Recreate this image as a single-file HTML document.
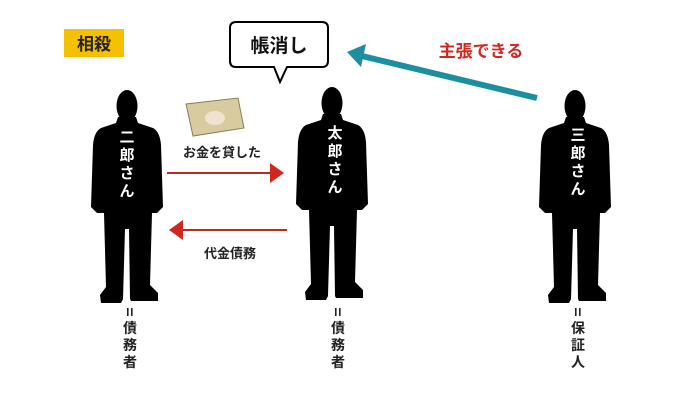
<!DOCTYPE html>
<html><head><meta charset="utf-8"><style>
body{margin:0;background:#fff;}
svg{display:block;}
text{font-family:"Liberation Sans","Noto Sans CJK JP",sans-serif;font-weight:bold;}
</style></head><body>
<svg width="700" height="400" viewBox="0 0 700 400" xmlns="http://www.w3.org/2000/svg">
<defs>
<g id="man">
<ellipse cx="0" cy="17" rx="10.5" ry="16" fill="#000"/>
<path d="M-9,28 L9,28 L11,34 L26,39 Q33,43 34,56 L36,118 L30,124 L25,124 L23,196 L31,204 L31,212 L4,212 L3,210 L2,140 L-2,140 L-4,210 L-6,214 L-26,214 L-27,206 L-21,198 L-23,124 L-30,124 L-36,118 L-34,56 Q-33,43 -26,39 L-11,34 Z" fill="#000"/>
</g>
</defs>
<rect x="64" y="29" width="60" height="28" fill="#f5c000"/>
<text x="94" y="50" font-size="17" text-anchor="middle" fill="#222">相殺</text>

<path d="M236,22 H322 Q328,22 328,28 V61 Q328,67 322,67 H287 L280,82 L274,67 H236 Q230,67 230,61 V28 Q230,22 236,22 Z" fill="#fff" stroke="#000" stroke-width="2"/>
<text x="279" y="52" font-size="19" text-anchor="middle" fill="#111">帳消し</text>

<text x="481" y="57" font-size="17" text-anchor="middle" fill="#d0271f">主張できる</text>
<line x1="537" y1="98" x2="362" y2="56" stroke="#1b8fa0" stroke-width="6"/>
<polygon points="347,52 366,44 361,67" fill="#1b8fa0"/>

<use href="#man" x="127" y="89"/>
<use href="#man" x="332" y="86"/>
<use href="#man" x="575" y="89"/>

<g font-size="15" fill="#fff" text-anchor="middle">
<text x="127" y="142">二</text><text x="127" y="160">郎</text><text x="127" y="178">さ</text><text x="127" y="196">ん</text>
<text x="335" y="138">太</text><text x="335" y="156">郎</text><text x="335" y="174">さ</text><text x="335" y="192">ん</text>
<text x="578" y="140">三</text><text x="578" y="158">郎</text><text x="578" y="176">さ</text><text x="578" y="194">ん</text>
</g>

<polygon points="186,104 238,98 244,128 193,136" fill="#d9cba0" stroke="#8c7b5a" stroke-width="1"/>
<ellipse cx="215" cy="118" rx="10" ry="7" fill="#efe3cf"/>
<text x="222" y="157" font-size="13" text-anchor="middle" fill="#222">お金を貸した</text>
<line x1="167" y1="173" x2="272" y2="173" stroke="#b52a24" stroke-width="2"/>
<polygon points="284,173 270,163 270,183" fill="#d0271f"/>

<line x1="287" y1="230" x2="180" y2="230" stroke="#b52a24" stroke-width="2"/>
<polygon points="169,230 183,220 183,240" fill="#d0271f"/>
<text x="230" y="258" font-size="13" text-anchor="middle" fill="#222">代金債務</text>

<g font-size="14" fill="#222" text-anchor="middle">
<rect x="127" y="308" width="1.6" height="8" fill="#222"/><rect x="131" y="308" width="1.6" height="8" fill="#222"/>
<text x="130" y="333">債</text><text x="130" y="350">務</text><text x="130" y="367">者</text>
<rect x="335" y="308" width="1.6" height="8" fill="#222"/><rect x="339" y="308" width="1.6" height="8" fill="#222"/>
<text x="338" y="333">債</text><text x="338" y="350">務</text><text x="338" y="367">者</text>
<rect x="575" y="308" width="1.6" height="8" fill="#222"/><rect x="579" y="308" width="1.6" height="8" fill="#222"/>
<text x="578" y="333">保</text><text x="578" y="350">証</text><text x="578" y="367">人</text>
</g>
</svg>
</body></html>
